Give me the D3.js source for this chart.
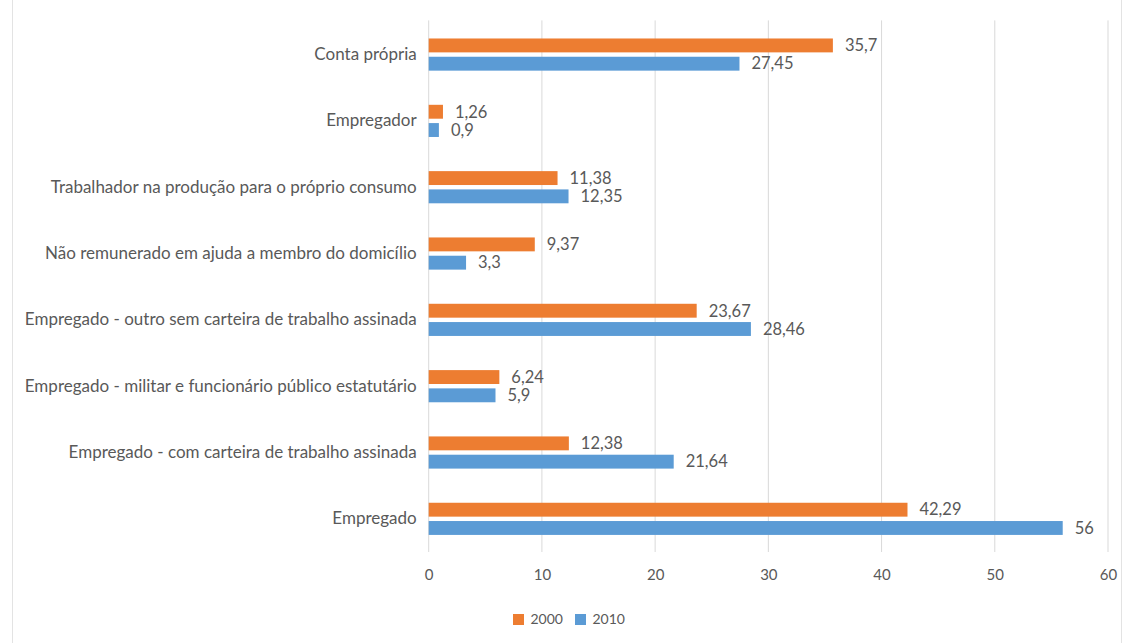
<!DOCTYPE html>
<html>
<head>
<meta charset="utf-8">
<script src="https://cdn.jsdelivr.net/npm/d3@7"></script>
<style>
  html, body { margin: 0; padding: 0; background: #ffffff; }
  svg { display: block; font-family: Lato, "Open Sans", sans-serif; }
</style>
</head>
<body>
<svg id="chart" width="1126" height="643"></svg>
<script>
// Posição na ocupação (%), 2000 e 2010
const categories = [
  "Conta própria",
  "Empregador",
  "Trabalhador na produção para o próprio consumo",
  "Não remunerado em ajuda a membro do domicílio",
  "Empregado - outro sem carteira de trabalho assinada",
  "Empregado - militar e funcionário público estatutário",
  "Empregado - com carteira de trabalho assinada",
  "Empregado"
];
const series = ["2000", "2010"];
const values2000 = [35.7, 1.26, 11.38, 9.37, 23.67, 6.24, 12.38, 42.29];
const values2010 = [27.45, 0.9, 12.35, 3.3, 28.46, 5.9, 21.64, 56];
const xTicks = [0, 10, 20, 30, 40, 50, 60];

const colors = { "2000": "#ED7D31", "2010": "#5B9BD5" };
const textColor = "#595959";

const svg = d3.select("#chart");
const W = 1126, H = 643;

// Outer frame of the chart area
svg.append("rect")
  .attr("x", 12.5).attr("y", -2)
  .attr("width", 1109).attr("height", H + 4)
  .attr("fill", "none").attr("stroke", "#e3e3e3").attr("stroke-width", 1);

const plot = { left: 428.7, right: 1108, top: 21.4, bottom: 552 };

const x = d3.scaleLinear().domain([0, 60]).range([plot.left, plot.right]);

const y0 = d3.scaleBand()
  .domain(categories)
  .range([plot.top, plot.bottom])
  .paddingInner(0.515)
  .paddingOuter(0.2575);

const y1 = d3.scaleBand()
  .domain(series)
  .range([0, y0.bandwidth()])
  .paddingInner(0.24);

const rows = categories.map((c, i) => ({
  category: c,
  vals: [
    { key: "2000", value: values2000[i] },
    { key: "2010", value: values2010[i] }
  ]
}));

// Vertical gridlines
svg.append("g")
  .selectAll("line")
  .data(xTicks)
  .join("line")
  .attr("x1", d => x(d)).attr("x2", d => x(d))
  .attr("y1", plot.top - 1).attr("y2", plot.bottom)
  .attr("stroke", "#d9d9d9").attr("stroke-width", 1);

// X axis tick labels
const xAxis = d3.axisBottom(x).tickValues(xTicks).tickSize(0).tickPadding(0)
  .tickFormat(d3.format("d"));
const gx = svg.append("g")
  .attr("transform", `translate(0, ${plot.bottom + 17})`)
  .call(xAxis);
gx.select(".domain").remove();
gx.selectAll("text")
  .attr("fill", textColor)
  .attr("font-size", 15)
  .attr("font-family", "Lato, sans-serif")
  .attr("dy", "0.71em");

// Category labels
const yAxis = d3.axisLeft(y0).tickSize(0).tickPadding(12);
const gy = svg.append("g")
  .attr("transform", `translate(${plot.left}, 0)`)
  .call(yAxis);
gy.select(".domain").remove();
gy.selectAll("text")
  .attr("fill", textColor)
  .attr("font-size", 17)
  .attr("font-family", "Lato, sans-serif");

// Bars
const groups = svg.append("g")
  .selectAll("g")
  .data(rows)
  .join("g")
  .attr("transform", d => `translate(0, ${y0(d.category)})`);

groups.selectAll("rect")
  .data(d => d.vals)
  .join("rect")
  .attr("x", x(0))
  .attr("y", d => y1(d.key))
  .attr("width", d => x(d.value) - x(0))
  .attr("height", y1.bandwidth())
  .attr("fill", d => colors[d.key]);

// Value labels
groups.selectAll("text")
  .data(d => d.vals)
  .join("text")
  .attr("x", d => x(d.value) + 12)
  .attr("y", d => y1(d.key) + y1.bandwidth() / 2)
  .attr("dy", "0.35em")
  .attr("fill", textColor)
  .attr("font-size", 16.5)
  .text(d => String(d.value).replace(".", ","));

// Legend
const legend = svg.append("g").attr("transform", "translate(513, 614)");
const legendX = { "2000": 0, "2010": 62 };
series.forEach(s => {
  const g = legend.append("g").attr("transform", `translate(${legendX[s]}, 0)`);
  g.append("rect").attr("width", 11).attr("height", 11).attr("fill", colors[s]);
  g.append("text")
    .attr("x", 17.5).attr("y", 5.5).attr("dy", "0.35em")
    .attr("fill", textColor).attr("font-size", 14)
    .text(s);
});
</script>
</body>
</html>
